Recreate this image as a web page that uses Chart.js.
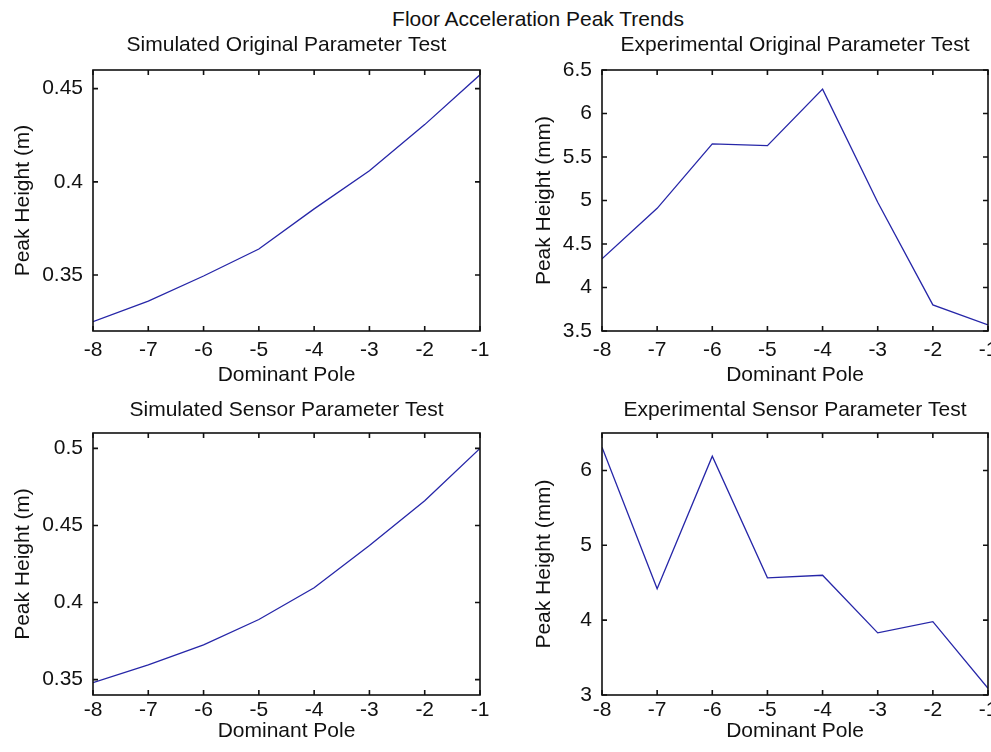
<!DOCTYPE html>
<html>
<head>
<meta charset="utf-8">
<title>Floor Acceleration Peak Trends</title>
<script src="https://cdn.jsdelivr.net/npm/chart.js@4.4.1/dist/chart.umd.min.js"></script>
<style>
  html, body { margin: 0; padding: 0; background: #fff; }
  #wrap { position: relative; width: 991px; height: 752px; overflow: hidden; background: #fff; }
  #wrap canvas { position: absolute; }
  #mainTitle {
    position: absolute; top: 6px; left: 538px; transform: translateX(-50%);
    font: 21px 'Liberation Sans', Arial, sans-serif; line-height: 25px;
    color: #111; white-space: nowrap;
  }
</style>
</head>
<body>
<div id="wrap">
  <div id="mainTitle">Floor Acceleration Peak Trends</div>
  <canvas id="simOrig" width="495" height="360" style="left:0;top:30px"></canvas>
  <canvas id="expOrig" width="496" height="360" style="left:495px;top:30px"></canvas>
  <canvas id="simSensor" width="495" height="362" style="left:0;top:390px"></canvas>
  <canvas id="expSensor" width="496" height="362" style="left:495px;top:390px"></canvas>
</div>
<script>
// values
const poles = [-8, -7, -6, -5, -4, -3, -2, -1];

const simOriginalPeak = [0.325, 0.336, 0.3495, 0.364, 0.3855, 0.406, 0.4307, 0.4574];
const expOriginalPeak = [4.33, 4.91, 5.65, 5.63, 6.28, 4.98, 3.80, 3.57];
const simSensorPeak = [0.348, 0.3596, 0.3725, 0.389, 0.4096, 0.437, 0.466, 0.5];
const expSensorPeak = [6.31, 4.42, 6.19, 4.565, 4.60, 3.83, 3.98, 3.09];

const simOriginalTicks = [0.35, 0.4, 0.45];
const expOriginalTicks = [3.5, 4, 4.5, 5, 5.5, 6, 6.5];
const simSensorTicks = [0.35, 0.4, 0.45, 0.5];
const expSensorTicks = [3, 4, 5, 6];

const FONT = { family: "'Liberation Sans', Arial, sans-serif", size: 21, weight: 'normal' };
const TEXT = '#111';
const LINE = '#2626a8';

// MATLAB style box with inward tick marks on all four sides
const boxPlugin = {
  id: 'matlabBox',
  afterDatasetsDraw(chart) {
    const { ctx, chartArea: a } = chart;
    const x = chart.scales.x;
    const y = chart.scales.y;
    const len = 5;
    ctx.save();
    ctx.strokeStyle = '#111';
    ctx.lineWidth = 1.6;
    ctx.strokeRect(a.left, a.top, a.right - a.left, a.bottom - a.top);
    ctx.beginPath();
    x.ticks.forEach((t) => {
      const px = x.getPixelForValue(t.value);
      ctx.moveTo(px, a.bottom); ctx.lineTo(px, a.bottom - len);
      ctx.moveTo(px, a.top); ctx.lineTo(px, a.top + len);
    });
    y.ticks.forEach((t) => {
      const py = y.getPixelForValue(t.value);
      ctx.moveTo(a.left, py); ctx.lineTo(a.left + len, py);
      ctx.moveTo(a.right, py); ctx.lineTo(a.right - len, py);
    });
    ctx.stroke();
    ctx.restore();
  },
};

function makeChart(id, title, yTitle, values, yMin, yMax, yTicks, lay) {
  return new Chart(document.getElementById(id), {
    type: 'line',
    data: {
      datasets: [{
        data: poles.map((p, i) => ({ x: p, y: values[i] })),
        borderColor: LINE,
        borderWidth: 1.3,
        pointRadius: 0,
        tension: 0,
        fill: false,
      }],
    },
    options: {
      responsive: false,
      animation: false,
      events: [],
      layout: { padding: { left: 0, top: 0, right: lay.padRight, bottom: lay.padBottom } },
      plugins: {
        legend: { display: false },
        tooltip: { enabled: false },
        title: {
          display: true,
          text: title,
          color: TEXT,
          font: FONT,
          fullSize: false,
          padding: { top: lay.titleTop, bottom: lay.titleBottom },
        },
      },
      scales: {
        x: {
          type: 'linear',
          min: -8,
          max: -1,
          afterBuildTicks: (s) => { s.ticks = poles.map((v) => ({ value: v })); },
          afterFit: (s) => { s.height = lay.xHeight; s.paddingLeft = 0; s.paddingRight = 0; },
          grid: { display: false, drawTicks: false },
          border: { display: false },
          ticks: { color: TEXT, font: FONT, padding: lay.xTickPad, maxRotation: 0, autoSkip: false },
          title: { display: true, text: 'Dominant Pole', color: TEXT, font: FONT, padding: { top: 0, bottom: 0 } },
        },
        y: {
          type: 'linear',
          min: yMin,
          max: yMax,
          afterBuildTicks: (s) => { s.ticks = yTicks.map((v) => ({ value: v })); },
          afterFit: (s) => { s.width = lay.yWidth; s.paddingTop = 0; s.paddingBottom = 0; },
          grid: { display: false, drawTicks: false },
          border: { display: false },
          ticks: { color: TEXT, font: FONT, padding: 10, callback: (v) => String(+Number(v).toFixed(3)) },
          title: { display: true, text: yTitle, color: TEXT, font: FONT, padding: { top: lay.yTitlePad, bottom: 0 } },
        },
      },
    },
    plugins: [boxPlugin],
  });
}

const topLeft = { yWidth: 93, yTitlePad: 10.4, padRight: 15, titleTop: 2.4, titleBottom: 12.4, xTickPad: 6.4, xHeight: 56.6, padBottom: 2.4 };
const topRight = { yWidth: 107, yTitlePad: 36.4, padRight: 3, titleTop: 2.4, titleBottom: 12.4, xTickPad: 6.4, xHeight: 56.6, padBottom: 2.4 };
const botLeft = { yWidth: 93, yTitlePad: 10.4, padRight: 15, titleTop: 7.4, titleBottom: 10.4, xTickPad: 2.4, xHeight: 48.6, padBottom: 8.4 };
const botRight = { yWidth: 107, yTitlePad: 36.4, padRight: 3, titleTop: 7.4, titleBottom: 10.4, xTickPad: 2.4, xHeight: 48.6, padBottom: 8.4 };

makeChart('simOrig', 'Simulated Original Parameter Test', 'Peak Height (m)', simOriginalPeak, 0.32, 0.46, simOriginalTicks, topLeft);
makeChart('expOrig', 'Experimental Original Parameter Test', 'Peak Height (mm)', expOriginalPeak, 3.5, 6.5, expOriginalTicks, topRight);
makeChart('simSensor', 'Simulated Sensor Parameter Test', 'Peak Height (m)', simSensorPeak, 0.34, 0.51, simSensorTicks, botLeft);
makeChart('expSensor', 'Experimental Sensor Parameter Test', 'Peak Height (mm)', expSensorPeak, 3, 6.5, expSensorTicks, botRight);
</script>
</body>
</html>
